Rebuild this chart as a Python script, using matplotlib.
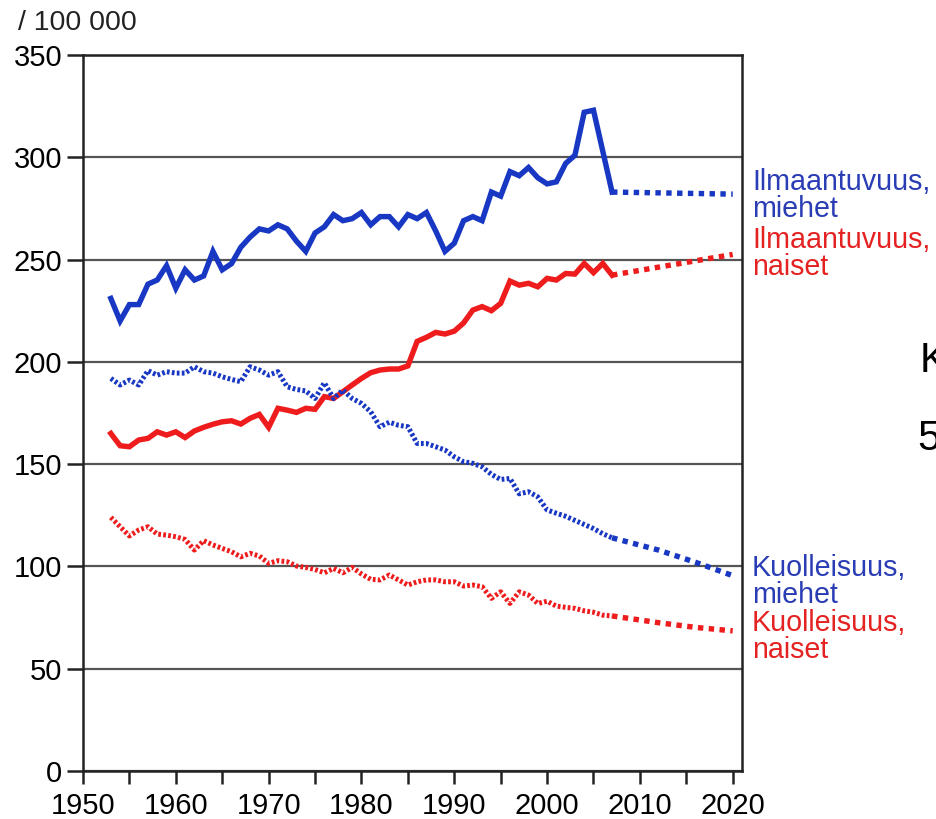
import numpy as np
import matplotlib
matplotlib.use('Agg')
import matplotlib.pyplot as plt

plt.rcParams['font.family'] = ['Liberation Sans', 'DejaVu Sans']

# ---------- data (per 100 000) ----------
years = list(range(1953, 2008))

inc_men = [231, 220, 228, 228, 238, 240, 247, 236, 245, 240,
           242, 254, 245, 248, 256, 261, 265, 264, 267, 265,
           259, 254, 263, 266, 272, 269, 270, 273, 267, 271,
           271, 266, 272, 270, 273, 264, 254, 258, 269, 271,
           269, 283, 281, 293, 291, 295, 290, 287, 288, 297,
           301, 322, 323, 303, 283]

inc_women = [165, 159, 158.5, 161.8, 162.6, 165.8, 164.2, 165.8, 163, 166.2,
             168, 169.5, 170.7, 171.2, 169.6, 172.4, 174.3, 168, 177.3, 176.4,
             175.3, 177.3, 176.8, 183, 182.1, 185.4, 188.7, 191.9, 194.7, 196,
             196.5, 196.5, 198, 210, 212, 214.4, 213.6, 215, 219, 225.3,
             227, 225, 228.6, 239.5, 237.5, 238.4, 236.7, 240.8, 240, 243.2,
             242.9, 248.1, 243.6, 248.1, 242.4]

mort_men = [191.9, 188.7, 191.1, 188.7, 195.7, 193.5, 195.2, 194.5, 194.5, 197.6,
            195.2, 194.5, 192.7, 191.4, 190.3, 197.6, 196, 193.5, 195.2, 187.8,
            186.5, 185.8, 182.1, 189.8, 182.1, 186.2, 182.1, 179.7, 175.6, 168.3,
            170.5, 169, 168.3, 160.1, 160.1, 158.5, 156.9, 153.6, 151.2, 150.4,
            148.7, 145, 142.5, 143, 135.5, 136.5, 134, 127.6, 126, 124.5,
            122.5, 120.5, 118.5, 116, 114]

mort_women = [124, 119.4, 114.9, 117.8, 119.4, 115.8, 115.3, 114.5, 113.2, 108,
              112.6, 110.5, 108.8, 107.2, 104.7, 106.4, 105.1, 101.5, 102.8, 102.3,
              100.2, 99.5, 98.5, 96.9, 99, 96.9, 99.5, 96.3, 93.7, 93.4,
              95.8, 93.4, 90.9, 92.5, 93.4, 93.4, 92.5, 92.5, 90.4, 90.9,
              90.1, 84.4, 87.6, 81.9, 87.6, 86, 81.9, 83, 80.6, 80,
              79.5, 78.3, 77.6, 76.2, 75.8]

# projections 2007 -> 2020
proj_years_lin = [2007, 2020]
inc_men_proj = [283, 282]
inc_women_proj = [242.4, 252.5]
proj_years = [2007, 2012, 2016, 2020]
mort_men_proj = [114, 108, 102, 95.5]
mort_women_proj = [75.8, 72.5, 70.2, 68.5]

labels = ['Ilmaantuvuus,', 'miehet', 'Ilmaantuvuus,', 'naiset',
          'Kuolleisuus,', 'miehet', 'Kuolleisuus,', 'naiset']

BLUE = '#1838c4'
RED = '#ee1c1c'
BLUE_TXT = '#2a3db5'
RED_TXT = '#e42222'

W, H = 936, 819
fig = plt.figure(figsize=(W / 100, H / 100), dpi=100)
ax = fig.add_axes([83 / W, 1 - 771 / H, (742 - 83) / W, (771 - 55) / H])

lw = 3.9
ax.plot(years, inc_men, color=BLUE, lw=lw, solid_joinstyle='miter')
ax.plot(years, inc_women, color=RED, lw=lw, solid_joinstyle='miter')
ax.plot(years, mort_men, color=BLUE, lw=3.6, linestyle=(0, (0.55, 0.45)))
ax.plot(years, mort_women, color=RED, lw=3.6, linestyle=(0, (0.55, 0.45)))

proj_style = (0, (1.0, 1.0))
ax.plot(proj_years_lin, inc_men_proj, color=BLUE, lw=lw, linestyle=proj_style)
ax.plot(proj_years_lin, inc_women_proj, color=RED, lw=lw, linestyle=proj_style)
ax.plot(proj_years, mort_men_proj, color=BLUE, lw=lw, linestyle=proj_style)
ax.plot(proj_years, mort_women_proj, color=RED, lw=lw, linestyle=proj_style)

ax.set_xlim(1950, 2021)
ax.set_ylim(0, 350)
ax.set_xticks(range(1950, 2021, 10))
ax.set_xticks(range(1955, 2021, 10), minor=True)
ax.set_yticks(range(0, 351, 50))

ax.yaxis.grid(True, color='#555555', linewidth=1.6)
ax.set_axisbelow(True)
for sp in ax.spines.values():
    sp.set_linewidth(1.8)
    sp.set_color('#222222')

ax.tick_params(axis='y', length=11.5, width=1.8, pad=3.5, labelsize=21,
               direction='out', color='#222222')
ax.tick_params(axis='x', which='both', length=9, width=1.8, pad=6,
               labelsize=21, direction='out', color='#222222')

# unit label
fig.text(18 / W, 1 - 30 / H, '/ 100 000', fontsize=20.5, ha='left',
         va='baseline', color='#222222')

# series labels at right
label_y = [190, 216.7, 248.3, 275, 576, 603.3, 630.7, 658.3]
label_c = [BLUE_TXT, BLUE_TXT, RED_TXT, RED_TXT,
           BLUE_TXT, BLUE_TXT, RED_TXT, RED_TXT]
for txt, y, c in zip(labels, label_y, label_c):
    fig.text(752 / W, 1 - y / H, txt, fontsize=20.6, color=c,
             ha='left', va='baseline')

# fragments of slide text cut at the right edge, as in the source
fig.text(920 / W, 1 - 371.7 / H, 'K', fontsize=30, ha='left', va='baseline')
fig.text(917 / W, 1 - 450 / H, '5', fontsize=30, ha='left', va='baseline')

fig.savefig('out.png', dpi=100)
